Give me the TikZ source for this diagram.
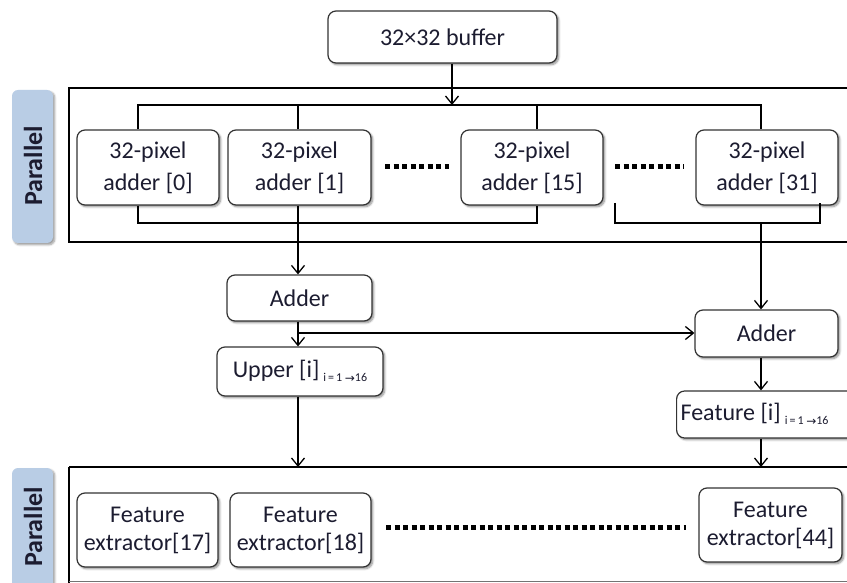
\documentclass[tikz,border=0pt]{standalone}
\usepackage{fontspec}
\setmainfont{Carlito}
\newfontfamily\symfont{DejaVu Sans}
\usetikzlibrary{arrows.meta,shadows.blur,calc}

\definecolor{txt}{HTML}{1C1C30}
\definecolor{edge}{HTML}{333333}
\definecolor{tagblue}{HTML}{B9CDE5}

\tikzset{
  unit/.style={draw=edge, line width=1.2pt, rounded corners=8pt, fill=white,
    text=txt, align=center, inner sep=2pt,
    blur shadow={shadow xshift=1.8pt, shadow yshift=-1.8pt, shadow blur steps=6, shadow opacity=45},
    font=\fontsize{24}{32}\selectfont},
  tagbox/.style={fill=tagblue, rounded corners=6pt,
    blur shadow={shadow xshift=1.8pt, shadow yshift=-1.8pt, shadow blur steps=6, shadow opacity=40}},
  tagtext/.style={rotate=90, text=txt, font=\fontsize{26}{26}\selectfont\bfseries},
  frame/.style={draw=black, line width=1.2pt},
  wire/.style={draw=black, line width=1.3pt},
  flow/.style={wire, -{Straight Barb[length=8pt,width=13pt,line width=1.3pt]}},
  ellipsis/.style={draw=black, line width=5pt, dash pattern=on 5pt off 3.5pt}
}
\newcommand{\idxrange}{\raisebox{-4pt}{\fontsize{12}{12}\selectfont i\,=\,1 {\symfont\fontsize{12}{12}\selectfont\raisebox{-1pt}{→}}16}}

\begin{document}
\begin{tikzpicture}[x=1pt,y=-1pt]
\useasboundingbox (0,0) rectangle (847,583);
\clip (0,0) rectangle (847,583);

% parallel stages
\draw[frame] (69,88) rectangle (900,242);
\draw[frame] (69,467) -- (900,467);
\draw[frame] (69,467) -- (69,600);
\draw[draw=black!55, line width=1pt] (69,581.5) -- (900,581.5);

\path[tagbox] (12,90) rectangle (53,243);
\node[tagtext] (tagA) at (33,166) {Parallel};
\path[tagbox] (12,468) rectangle (53,640);
\node[tagtext] (tagB) at (33,527) {Parallel};

% buffer
\node[unit, minimum width=229pt, minimum height=52pt] (buf) at (442.5,37) {32×32 buffer};

% pixel adders
\node[unit, minimum width=142pt, minimum height=75pt] (a0)  at (148,167.5) {32-pixel\\adder [0]};
\node[unit, minimum width=143pt, minimum height=75pt] (a1)  at (299.5,167.5) {32-pixel\\adder [1]};
\node[unit, minimum width=142pt, minimum height=75pt] (a15) at (532,167.5) {32-pixel\\adder [15]};
\node[unit, minimum width=142pt, minimum height=75pt] (a31) at (767,167.5) {32-pixel\\adder [31]};

\draw[ellipsis] (385,167) -- (449,167);
\draw[ellipsis] (615,167) -- (684,167);

% adders in the middle
\node[unit, minimum width=145pt, minimum height=46pt] (addL) at (299.5,298) {Adder};
\node[unit, minimum width=166pt, minimum height=49pt, inner sep=1pt] (upper) at (300,371.5) {Upper [i]\,\idxrange};
\node[unit, minimum width=143pt, minimum height=47pt] (addR) at (766.5,333.5) {Adder};
\node[unit, anchor=west, minimum width=190pt, minimum height=47pt] (feat) at (676,414.5)
  {\makebox[182pt][l]{Feature [i]\,\idxrange}};

% feature extractors
\node[unit, minimum width=141pt, minimum height=74pt, font=\fontsize{24}{28}\selectfont] (f17) at (147.5,530) {Feature\\extractor[17]};
\node[unit, minimum width=141pt, minimum height=74pt, font=\fontsize{24}{28}\selectfont] (f18) at (300.5,530) {Feature\\extractor[18]};
\node[unit, minimum width=143pt, minimum height=74pt, font=\fontsize{24}{28}\selectfont] (f44) at (770.5,525) {Feature\\extractor[44]};

\draw[ellipsis] (386,527) -- (686,527);

% distribution bus
\coordinate (busin) at (452,105);
\draw[flow] (buf.south -| busin) -- (busin);
\draw[wire] ($(a0.north)+(-10,0)$) |- (761,105) -- (a31.north -| 761,0);
\draw[wire] (a1.north -| 298,0) -- (298,105);
\draw[wire] (a15.north -| 537,0) -- (537,105);

% collection buses
\draw[wire] ($(a0.south)+(-10,0)$) |- (537,223) -- (a15.south -| 537,0);
\draw[wire] (615,203) -- (615,223) -- (820,223) -- (820,203);
\draw[flow] (a1.south -| 298,0) -- (addL.north -| 298,0);
\draw[flow] (761,223) -- (addR.north -| 761,0);

% middle flow
\coordinate (tap) at (298,333);
\draw[flow] (addL.south -| 298,0) -- (upper.north -| 298,0);
\draw[flow] (tap) -- (tap -| addR.west);
\draw[flow] (addR.south -| 761,0) -- (feat.north -| 761,0);
\draw[flow] (upper.south -| 298,0) -- (298,467);
\draw[flow] (feat.south -| 761,0) -- (761,467);
\end{tikzpicture}
\end{document}
